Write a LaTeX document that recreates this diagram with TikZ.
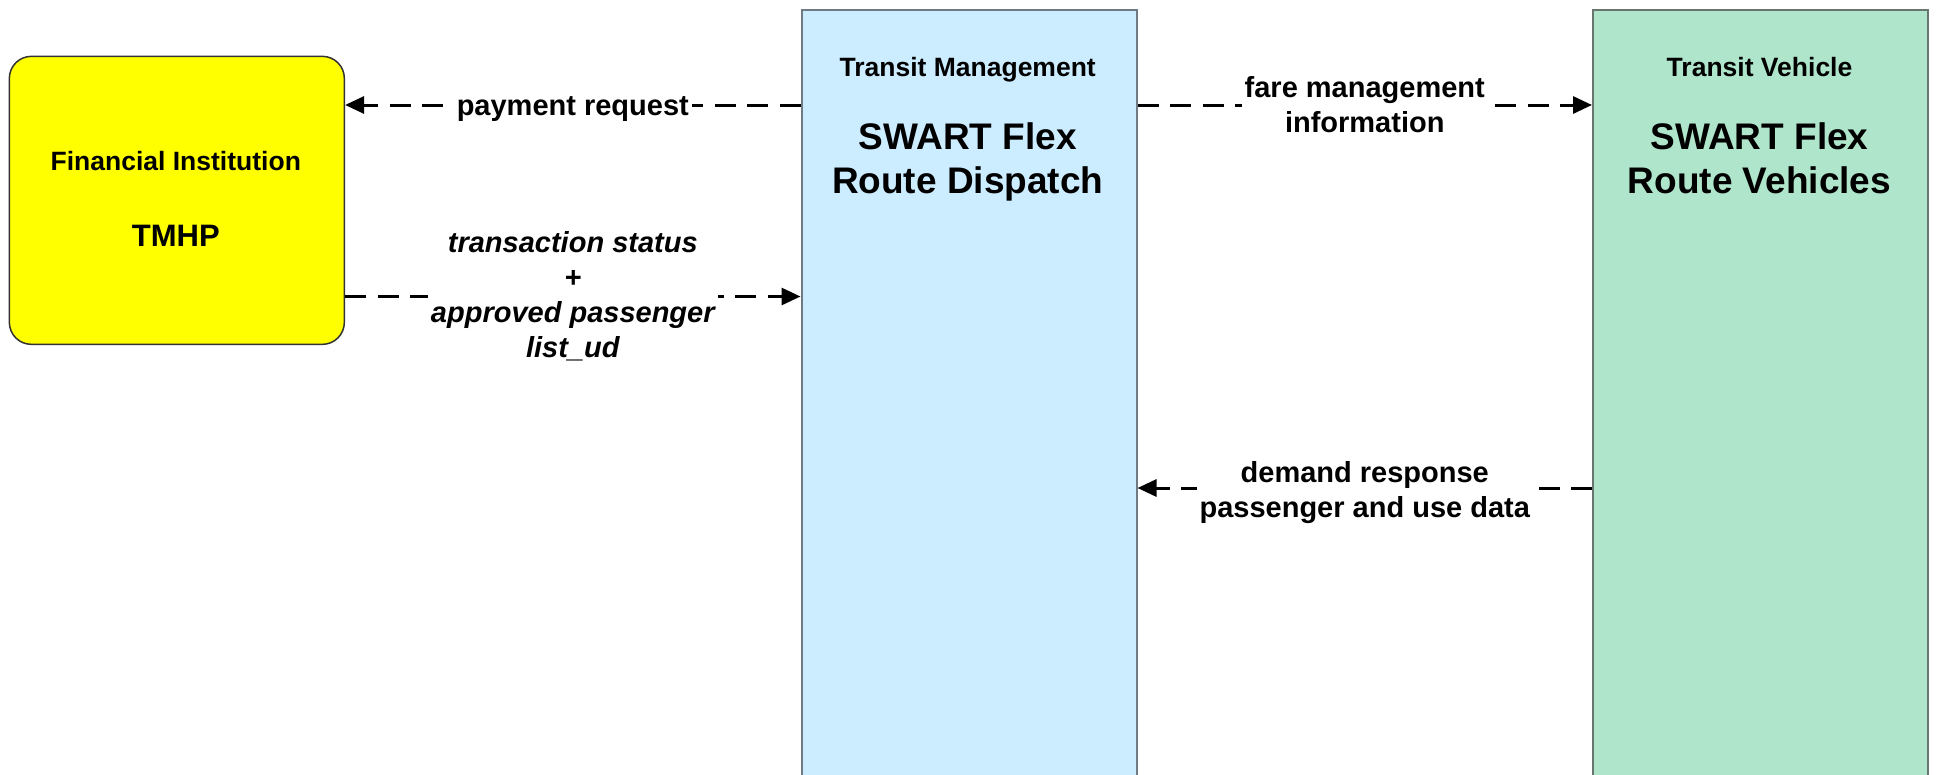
\documentclass[tikz,border=0pt]{standalone}
\usepackage{fontspec}
\setmainfont{Liberation Sans}
\usetikzlibrary{arrows.meta}
\definecolor{fiyellow}{HTML}{FFFF00}
\definecolor{tmblue}{HTML}{CCECFF}
\definecolor{tvgreen}{HTML}{AFE5CB}
\definecolor{blueedge}{HTML}{6E7B85}
\definecolor{greenedge}{HTML}{6B7570}
\begin{document}
\begin{tikzpicture}[x=1pt,y=-1pt,
  flow/.style={draw=black, line width=3pt, dash pattern=on 21pt off 11.5pt,
    -{Triangle[length=19pt,width=17pt]}},
  lbl/.style={fill=white, inner sep=3pt, align=center,
    font=\bfseries\fontsize{29}{35}\selectfont},
  ilbl/.style={lbl, font=\bfseries\itshape\fontsize{29}{35}\selectfont},
  kind/.style={anchor=base, inner sep=0pt, font=\bfseries\fontsize{26.5}{32}\selectfont},
  title/.style={anchor=base, inner sep=0pt, font=\bfseries\fontsize{37}{44.5}\selectfont},
  fibox/.style={draw=black!80, line width=1.5pt, fill=fiyellow, rounded corners=22pt},
  tmbox/.style={draw=blueedge, line width=2pt, fill=tmblue},
  tvbox/.style={draw=greenedge, line width=2pt, fill=tvgreen}]
\useasboundingbox (0,0) rectangle (1937,774);
\clip (0,0) rectangle (1937,774);
% boxes
\node[fibox, anchor=north west, minimum width=335pt, minimum height=288pt, inner sep=0pt] (fi) at (8.6,55.6) {};
\node[tmbox, anchor=north west, minimum width=335pt, minimum height=800pt, inner sep=0pt] (tm) at (800.5,8.6) {};
\node[tvbox, anchor=north west, minimum width=335pt, minimum height=800pt, inner sep=0pt] (tv) at (1592,8.6) {};
% box texts
\node[kind] (fikind) at (175.8,170.3) {Financial Institution};
\node[anchor=base, inner sep=0pt, font=\bfseries\fontsize{31}{37}\selectfont] (finame) at (175.8,246.1) {TMHP};
\node[kind] (tmkind) at (967.7,76.4) {Transit Management};
\node[title] (tmname1) at (967.7,149.3) {SWART Flex};
\node[title] (tmname2) at (967.7,193.8) {Route Dispatch};
\node[kind] (tvkind) at (1759.5,76.4) {Transit Vehicle};
\node[title] (tvname1) at (1759.5,149.3) {SWART Flex};
\node[title] (tvname2) at (1759.5,193.8) {Route Vehicles};
% flow heights
\coordinate (ypay) at (0,105);
\coordinate (ytrans) at (0,296.5);
\coordinate (yfare) at (0,105);
\coordinate (ydem) at (0,488);
% flows
\draw[flow] (tm.west |- ypay) -- node[lbl, yshift=-4pt] (lpay) {payment request} (fi.east |- ypay);
\draw[flow] (fi.east |- ytrans) -- node[ilbl] (ltrans) {transaction status\\+\\approved passenger\\list\_ud} (tm.west |- ytrans);
\draw[flow] (tm.east |- yfare) -- node[lbl] (lfare) {fare management\\information} (tv.west |- yfare);
\draw[flow] (tv.west |- ydem) -- node[lbl, yshift=-4.5pt] (ldem) {demand response\\passenger and use data} (tm.east |- ydem);
\end{tikzpicture}
\end{document}
